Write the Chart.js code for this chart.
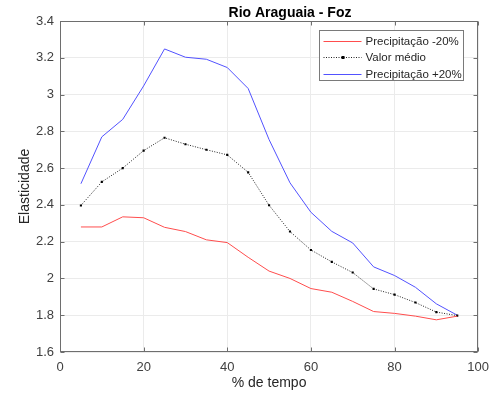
<!DOCTYPE html>
<html>
<head>
<meta charset="utf-8">
<script src="https://cdn.jsdelivr.net/npm/chart.js@4.4.1/dist/chart.umd.min.js"></script>
<style>
  html, body { margin: 0; padding: 0; background: #fff; }
  #wrap { width: 497px; height: 396px; }
</style>
</head>
<body>
<div id="wrap"><canvas id="elasticidade"></canvas></div>
<script>
// % de tempo
var tempo = [5, 10, 15, 20, 25, 30, 35, 40, 45, 50, 55, 60, 65, 70, 75, 80, 85, 90, 95];

// elasticidade por cenario
var precipMenos20 = [2.28, 2.28, 2.335, 2.33, 2.278, 2.255, 2.21, 2.195, 2.115, 2.04, 2.0, 1.945, 1.925, 1.875, 1.82, 1.81, 1.795, 1.775, 1.795];
var valorMedio = [2.397, 2.525, 2.60, 2.695, 2.765, 2.73, 2.70, 2.672, 2.577, 2.398, 2.255, 2.155, 2.09, 2.032, 1.943, 1.912, 1.869, 1.817, 1.798];
var precipMais20 = [2.515, 2.77, 2.865, 3.047, 3.248, 3.203, 3.192, 3.147, 3.033, 2.755, 2.52, 2.36, 2.256, 2.193, 2.063, 2.016, 1.952, 1.862, 1.80];

var xTicks = [0, 20, 40, 60, 80, 100];
var yTicks = [1.6, 1.8, 2, 2.2, 2.4, 2.6, 2.8, 3, 3.2, 3.4];

var FONT = "'Liberation Sans', Arial, sans-serif";

function pontos(valores) {
  return tempo.map(function (t, i) { return { x: t, y: valores[i] }; });
}

//Box round the axes, inner tick marks, title and legend
var moldura = {
  id: 'moldura',
  afterDraw: function (chart) {
    var ctx = chart.ctx;
    var a = chart.chartArea;
    var sx = chart.scales.x, sy = chart.scales.y;
    var L = Math.round(a.left) + 0.5, R = Math.round(a.right) - 0.5;
    var T = Math.round(a.top) + 0.5, B = Math.round(a.bottom) - 0.5;
    ctx.save();
    ctx.strokeStyle = '#6e6e6e';
    ctx.lineWidth = 1;
    ctx.strokeRect(L, T, R - L, B - T);

    ctx.beginPath();
    xTicks.forEach(function (v) {
      var px = Math.round(sx.getPixelForValue(v)) + 0.5;
      ctx.moveTo(px, B); ctx.lineTo(px, B - 4);
      ctx.moveTo(px, T); ctx.lineTo(px, T + 4);
    });
    yTicks.forEach(function (v) {
      var py = Math.round(sy.getPixelForValue(v)) + 0.5;
      ctx.moveTo(L, py); ctx.lineTo(L + 4, py);
      ctx.moveTo(R, py); ctx.lineTo(R - 4, py);
    });
    ctx.stroke();

    // title
    ctx.fillStyle = '#000';
    ctx.font = 'bold 14px ' + FONT;
    ctx.textAlign = 'center';
    ctx.textBaseline = 'alphabetic';
    ctx.fillText('Rio Araguaia - Foz', 290, 17);

    // legend
    var bx = Math.round(a.right) - 158.5, by = Math.round(a.top) + 9.5;
    var bw = 144, bh = 50;
    ctx.fillStyle = '#fff';
    ctx.fillRect(bx, by, bw, bh);
    ctx.strokeStyle = '#7a7a7a';
    ctx.strokeRect(bx, by, bw, bh);
    ctx.font = '11.5px ' + FONT;
    ctx.textAlign = 'left';
    ctx.textBaseline = 'middle';
    chart.data.datasets.forEach(function (ds, i) {
      var ly = Math.round(by + 10 + i * 16.5);
      if (ds.borderDash) {
        // dotted sample with its marker
        ctx.beginPath();
        ctx.strokeStyle = ds.borderColor;
        ctx.lineWidth = 1;
        ctx.setLineDash(ds.borderDash);
        ctx.moveTo(bx + 4, ly + 0.5);
        ctx.lineTo(bx + 42, ly + 0.5);
        ctx.stroke();
        ctx.setLineDash([]);
        ctx.fillStyle = ds.pointBackgroundColor;
        ctx.fillRect(bx + 22, ly - 1, 3, 3);
      } else {
        ctx.fillStyle = ds.borderColor;
        ctx.fillRect(bx + 4, ly, 38, 1);
      }
      ctx.fillStyle = '#262626';
      ctx.fillText(ds.label, bx + 46, ly + 0.5);
    });
    ctx.restore();
  }
};

new Chart(document.getElementById('elasticidade'), {
  type: 'line',
  data: {
    datasets: [{
      label: 'Precipitação -20%',
      data: pontos(precipMenos20),
      borderColor: '#ff4d4d',
      borderWidth: 1,
      pointRadius: 0,
      fill: false
    }, {
      label: 'Valor médio',
      data: pontos(valorMedio),
      borderColor: '#222',
      borderWidth: 1,
      borderDash: [1, 1.5],
      pointRadius: 1.5,
      pointStyle: 'rect',
      pointBackgroundColor: '#000',
      pointBorderWidth: 0,
      fill: false
    }, {
      label: 'Precipitação +20%',
      data: pontos(precipMais20),
      borderColor: '#5252ff',
      borderWidth: 1,
      pointRadius: 0,
      fill: false
    }]
  },
  options: {
    responsive: true,
    maintainAspectRatio: false,
    animation: false,
    layout: { padding: { top: 21, right: 16, left: 0, bottom: 0 } },
    plugins: {
      legend: { display: false },
      title: { display: false },
      tooltip: { enabled: false }
    },
    scales: {
      x: {
        type: 'linear',
        min: 0,
        max: 100,
        afterFit: function (scale) { scale.height = 44; },
        afterBuildTicks: function (scale) {
          scale.ticks = xTicks.map(function (v) { return { value: v }; });
        },
        grid: { color: '#ebebeb', drawTicks: false },
        border: { display: false },
        ticks: {
          padding: 8,
          color: '#404040',
          font: { family: FONT, size: 13 },
          maxRotation: 0,
          callback: function (v) { return String(v); }
        },
        title: {
          display: true,
          text: '% de tempo',
          color: '#262626',
          font: { family: FONT, size: 14 },
          padding: { top: 0, bottom: 4 }
        }
      },
      y: {
        min: 1.6,
        max: 3.4,
        afterFit: function (scale) { scale.width = 60; },
        afterBuildTicks: function (scale) {
          scale.ticks = yTicks.map(function (v) { return { value: v }; });
        },
        grid: { color: '#ebebeb', drawTicks: false },
        border: { display: false },
        ticks: {
          padding: 6,
          color: '#404040',
          font: { family: FONT, size: 13 },
          callback: function (v) { return String(v); }
        },
        title: {
          display: true,
          text: 'Elasticidade',
          color: '#262626',
          font: { family: FONT, size: 14 },
          padding: { top: 17, bottom: 0 }
        }
      }
    }
  },
  plugins: [moldura]
});
</script>
</body>
</html>
